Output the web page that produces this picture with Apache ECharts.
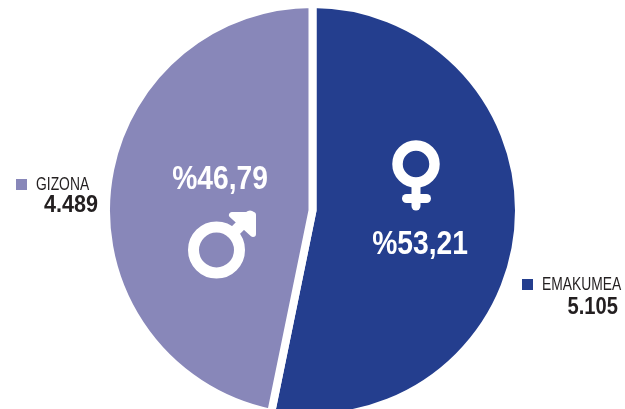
<!DOCTYPE html>
<html><head><meta charset="utf-8">
<style>html,body{margin:0;padding:0;background:#fff}#c{width:625px;height:409px}</style>
<script src="https://cdn.jsdelivr.net/npm/echarts@6/dist/echarts.min.js"></script>
</head><body><div id="c"></div>
<script>
const categories = ['EMAKUMEA', 'GIZONA'];
const values = [5105, 4489];
const valueLabels = ['5.105', '4.489'];
const percentLabels = ['%53,21', '%46,79'];
const colors = ['#243e8e', '#8887b9'];
const FONT = '"Liberation Sans",sans-serif';
const INK = '#231f20';
const Z = 10;

function txt(s, x, y, font, fill, align, sx) {
  return {type:'text', z:Z, x, y, scaleX:sx, style:{text:s, x:0, y:0, align, verticalAlign:'middle', fill, font:font+' '+FONT}};
}
const pctText = (s,x,y) => txt(s,x,y,'bold 34px','#fff','center',0.83);
const valText = (s,x,y,sx) => txt(s,x,y,'bold 24px',INK,'right',sx);
const nameText = (s,x,y) => txt(s,x,y,'18px',INK,'left',0.77);
const marker = (x,y,c) => ({type:'rect', z:Z, shape:{x,y,width:11,height:11}, style:{fill:c}});
const line = (pts, w) => ({type:'polyline', z:Z, shape:{points:pts},
  style:{stroke:'#fff', fill:null, lineWidth:w, lineCap:'round', lineJoin:'round'}});
const ring = (cx, cy, r, w) => ({type:'circle', z:Z, shape:{cx, cy, r},
  style:{stroke:'#fff', fill:null, lineWidth:w}});

const chart = echarts.init(document.getElementById('c'), null, {renderer:'canvas'});
chart.setOption({
  animation:false,
  series:[{
    type:'pie', center:[312.5,210.5], radius:[0,206.5], startAngle:90, clockwise:true,
    silent:true, label:{show:false}, labelLine:{show:false},
    itemStyle:{borderColor:'#fff', borderWidth:8},
    data:categories.map((n,i)=>({name:n, value:values[i], itemStyle:{color:colors[i]}}))
  }],
  graphic:[
    pctText(percentLabels[0], 420, 245),
    pctText(percentLabels[1], 220, 179.5),
    marker(522,279,colors[0]),
    marker(16,179,colors[1]),
    nameText(categories[0], 542, 285.5),
    nameText(categories[1], 36, 185.5),
    valText(valueLabels[0], 618, 307.5, 0.84),
    valText(valueLabels[1], 98, 205.5, 0.9),
    ring(416, 164, 18.5, 10.5),
    line([[416,187],[416,206]], 9),
    line([[406.5,198.5],[426.5,198.5]], 9),
    ring(216.5, 250, 23, 11),
    line([[233,233],[250,216]], 11),
    {type:'polygon', z:Z, shape:{points:[[232,215],[253,215],[253,234]]},
     style:{fill:'#fff', stroke:'#fff', lineWidth:6, lineJoin:'round'}}
  ]
});
</script></body></html>
